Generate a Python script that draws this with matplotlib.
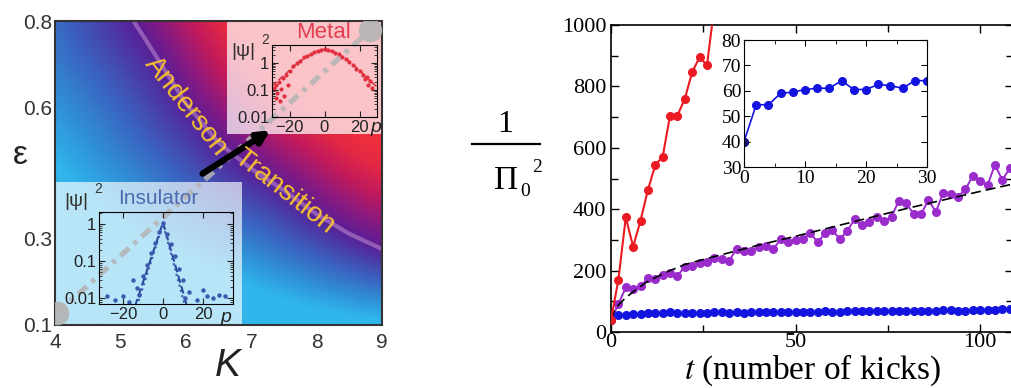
import numpy as np
import matplotlib
matplotlib.use("Agg")
import matplotlib.pyplot as plt
from matplotlib.colors import LinearSegmentedColormap
from matplotlib.patches import Rectangle

plt.rcParams['font.family'] = ['Liberation Sans', 'DejaVu Sans']
plt.rcParams['mathtext.fontset'] = 'stix'

# ---------------- data: left panel (phase diagram) ----------------
K_lim = [4, 9]
eps_lim = [0.1, 0.8]
K_ticks = [4, 5, 6, 7, 8, 9]
eps_ticks = [0.1, 0.3, 0.6, 0.8]

# Anderson transition line
K_crit = [4.9, 5.2, 5.5, 6.0, 6.5, 7.0, 7.5, 8.0, 8.5, 9.0, 9.5]
eps_crit = [0.92, 0.80, 0.73, 0.61, 0.52, 0.46, 0.41, 0.355, 0.31, 0.275, 0.25]

# grey path crossing the transition
K_path = [4.03, 8.82]
eps_path = [0.127, 0.779]

# black arrow
K_arrow = [6.22, 7.33]
eps_arrow = [0.445, 0.552]

# insulator inset |psi|^2 (p)
p_ins_fit = [-14, 0, 12]
psi_ins_fit = [0.006, 1.1, 0.006]
p_ins_fit2 = [-13, 0, 11]
psi_ins_fit2 = [0.006, 1.0, 0.006]
p_ins = [-28, -24, -20, -17, -15, -13, -12, -10, -8, -6, -4, -2, 0, 2, 4, 6, 8, 10, 11, 13, 17, 20, 22, 25, 28, 31]
psi_ins = [0.011, 0.009, 0.011, 0.008, 0.03, 0.019, 0.012, 0.04, 0.08, 0.16, 0.3, 0.6, 1.05, 0.55, 0.28, 0.14, 0.06, 0.03, 0.01, 0.015, 0.009, 0.016, 0.011, 0.01, 0.012, 0.011]

# metal inset |psi|^2 (p)
p_met_fit = [-30, -26, -22, -18, -14, -10, -6, -2, 0, 2, 6, 10, 14, 18, 22, 26, 30]
psi_met_fit = [0.14, 0.24, 0.40, 0.70, 1.15, 1.75, 2.45, 3.05, 3.15, 3.05, 2.45, 1.75, 1.15, 0.70, 0.40, 0.22, 0.13]
p_met = [-29, -28, -27.5, -27, -26, -25.5, -25, -24, -23, -22, -21, -20, -18, -16, -14, -12, -10, -8, -6, -4, -2, 0, 2, 4, 6, 8, 10, 12, 14, 16, 18, 20, 22, 23, 24, 25, 26, 27]
psi_met = [0.12, 0.05, 0.15, 0.08, 0.2, 0.04, 0.11, 0.28, 0.06, 0.35, 0.15, 0.5, 0.75, 1.0, 1.2, 1.6, 1.8, 2.2, 2.6, 2.8, 3.1, 3.2, 3.0, 2.7, 2.4, 2.1, 1.7, 1.4, 1.1, 0.85, 0.62, 0.5, 0.35, 0.25, 0.3, 0.15, 0.22, 0.12]

# ---------------- data: right panel ----------------
t_red = [0, 2, 4, 6, 8, 10, 12, 14, 16, 18, 20, 22, 24, 26, 28]
red_vals = [40, 170, 373, 278, 363, 463, 544, 571, 705, 705, 760, 847, 895, 869, 1060]

t_kicks = np.arange(0, 110, 2)
purple_vals = [40, 91, 145, 141, 150, 175, 172, 185, 193, 183, 213,
               216, 224, 227, 241, 237, 232, 271, 263, 265, 278,
               280, 271, 302, 293, 300, 302, 321, 293, 321, 332,
               302, 330, 367, 347, 358, 376, 360, 376, 428, 419,
               384, 384, 430, 391, 454, 450, 439, 465, 508, 491,
               478, 545, 495, 533]
blue_vals = [40, 54.5, 54.5, 59, 59.5, 60.5, 61, 61, 64, 60.5, 60.5, 62.5, 62, 61, 64, 64,
             63, 64, 63, 64, 64, 65, 64, 65, 65, 66, 66, 65, 66, 67, 66, 66, 68, 69, 68, 69,
             69, 68, 69, 69, 70, 70, 69, 70, 70, 71, 72, 70, 70, 73, 72, 71, 73, 74, 74]

t_fit = [0, 1, 2, 4, 7, 10, 15, 20, 30, 40, 50, 60, 70, 80, 90, 100, 110]
fit_vals = [40, 70, 88, 112, 140, 165, 195, 220, 252, 283, 312, 342, 372, 402, 430, 458, 485]

W, H = 1011, 388
fig = plt.figure(figsize=(W / 100, H / 100), dpi=100)


def box(x0, y0, x1, y1):
    # pixel box (top-left origin) -> figure fraction
    return [x0 / W, 1 - y1 / H, (x1 - x0) / W, (y1 - y0) / H]


# ================= left panel =================
ax = fig.add_axes(box(55, 21, 382, 325))

KK, EE = np.meshgrid(np.linspace(4, 9, 400), np.linspace(0.1, 0.8, 400))
sx, sy = 65.4, 434.0
px, py = KK * sx, EE * sy
cx, cy = np.array(K_crit) * sx, np.array(eps_crit) * sy
dist = np.full(KK.shape, np.inf)
for i in range(len(cx) - 1):
    vx, vy = cx[i + 1] - cx[i], cy[i + 1] - cy[i]
    s = np.clip(((px - cx[i]) * vx + (py - cy[i]) * vy) / (vx * vx + vy * vy), 0, 1)
    dist = np.minimum(dist, np.hypot(px - cx[i] - s * vx, py - cy[i] - s * vy))
above = EE > np.interp(KK, K_crit, eps_crit)
neg_scale = 145 - 15.6 * (KK - 4)
v = np.where(above, np.clip(dist / 95, 0, 1), -np.clip(dist / neg_scale, 0, 1))

cmap = LinearSegmentedColormap.from_list('phase', [
    (0.0, '#30b6ec'), (0.12, '#2f92d8'), (0.27, '#3a64c0'), (0.4, '#4a3ca8'),
    (0.5, '#5a1e96'), (0.62, '#8a1a80'), (0.75, '#c01a5c'), (0.88, '#e42844'),
    (1.0, '#f0303c')])
ax.imshow((v + 1) / 2, extent=[4, 9, 0.1, 0.8], origin='lower', aspect='auto',
          cmap=cmap, vmin=0, vmax=1, zorder=0)

ax.plot(K_crit, eps_crit, color='#e8b8e8', lw=3, alpha=0.4, zorder=1)

ax.add_patch(Rectangle((4, 0.1), 2.86, 0.329, facecolor='white', alpha=0.66,
                       edgecolor='none', zorder=2))
ax.add_patch(Rectangle((6.63, 0.54), 2.37, 0.26, facecolor='white', alpha=0.72,
                       edgecolor='none', zorder=2))

ax.plot(K_path, eps_path, color='#b4b4b4', lw=3.8, alpha=0.85,
        linestyle=(0, (2.2, 1.2, 0.8, 1.2)), zorder=3)
ax.plot(K_path, eps_path, 'o', color='#b4b4b4', ms=17, alpha=0.9, mec='none', zorder=3)

ax.annotate('', xy=(K_arrow[1], eps_arrow[1]), xytext=(K_arrow[0], eps_arrow[0]),
            arrowprops=dict(arrowstyle='-|>', color='black', lw=4.5, mutation_scale=18),
            zorder=4)

ax.text(6.0, 0.604, 'Anderson', rotation=-52, rotation_mode='anchor', ha='center',
        va='center', color='#f5c030', fontsize=20, zorder=5)
ax.text(7.5, 0.406, 'Transition', rotation=-38, rotation_mode='anchor', ha='center',
        va='center', color='#f5c030', fontsize=20, zorder=5)

ax.set_xlim(K_lim)
ax.set_ylim(eps_lim)
ax.set_xticks(K_ticks)
ax.set_yticks(eps_ticks)
ax.set_yticklabels(['0.1', '0.3', '0.6', '0.8'])
ax.tick_params(length=0, labelsize=15, colors='#333333')
ax.tick_params(axis='x', pad=6)
ax.tick_params(axis='y', pad=2)
for sp in ax.spines.values():
    sp.set_color('#333333')
    sp.set_linewidth(1.5)
fig.text(228 / W, 1 - 366 / H, 'K', fontsize=28, style='italic', ha='center', va='center',
         color='#222222')
fig.text(20 / W, 1 - 155 / H, 'ε', fontsize=24, ha='center', va='center', color='#222222')

# Insulator inset
ai = fig.add_axes(box(99, 212, 233, 304))
ai.set_facecolor('none')
ai.plot(p_ins_fit, psi_ins_fit, '--', color='#2c4a9a', lw=1.5)
ai.plot(p_ins_fit2, psi_ins_fit2, ':', color='#3a5ab0', lw=1.5)
ai.plot(p_ins, psi_ins, 'o', color='#3a5ab0', ms=2.2)
ai.set_yscale('log')
ai.set_xlim(-32, 35)
ai.set_ylim(0.0069, 2.1)
ai.set_xticks([-20, 0, 20])
ai.set_yticks([0.01, 0.1, 1])
ai.set_yticklabels(['0.01', '0.1', '1'])
ai.tick_params(which='both', direction='in', top=True, right=True, labelsize=12, pad=2,
               colors='#222222')
ai.tick_params(which='major', length=4)
ai.tick_params(which='minor', length=2)
fig.text(118 / W, 1 - 199 / H, 'Insulator', fontsize=15, color='#4c6cb0', va='center')
fig.text(64 / W, 1 - 201 / H, '|ψ|', fontsize=14, color='#333333', va='center')
fig.text(94 / W, 1 - 189 / H, '2', fontsize=10, color='#333333', va='center')
fig.text(226 / W, 1 - 318 / H, 'p', fontsize=14, style='italic', color='#222222', va='center',
         ha='center')

# Metal inset
am = fig.add_axes(box(272, 45, 377, 117))
am.set_facecolor('none')
am.plot(p_met_fit, psi_met_fit, '--', color='#d83848', lw=1.2)
am.plot(p_met, psi_met, 'o', color='#e03040', ms=2)
am.set_yscale('log')
am.set_xlim(-30, 30)
am.set_ylim(0.01, 4.6)
am.set_xticks([-20, 0, 20])
am.set_yticks([0.01, 0.1, 1])
am.set_yticklabels(['0.01', '0.1', '1'])
am.tick_params(which='both', direction='in', top=True, right=True, labelsize=12, pad=2,
               colors='#222222')
am.tick_params(which='major', length=4)
am.tick_params(which='minor', length=2)
fig.text(296 / W, 1 - 33 / H, 'Metal', fontsize=16, color='#e04050', va='center')
fig.text(231 / W, 1 - 52 / H, '|ψ|', fontsize=14, color='#333333', va='center')
fig.text(261 / W, 1 - 40 / H, '2', fontsize=10, color='#333333', va='center')
fig.text(376 / W, 1 - 128 / H, 'p', fontsize=14, style='italic', color='#222222', va='center',
         ha='center')

# ================= right panel =================
serif = 'Liberation Serif'
ar = fig.add_axes(box(611, 25, 1013, 332))
ar.plot(t_kicks, purple_vals, '-o', color='#9a2ccc', ms=5.5, lw=1.4, zorder=2)
ar.plot(t_fit, fit_vals, '--', color='black', lw=1.2, dashes=(6, 3), zorder=3)
ar.plot(t_kicks, blue_vals, '-o', color='#1414e0', ms=5.5, lw=1.2, zorder=3)
ar.plot(t_red, red_vals, '-o', color='#ec1a22', ms=5.5, lw=1.5, zorder=4)
ar.set_xlim(0, 108.9)
ar.set_ylim(0, 1000)
ar.set_xticks([0, 50, 100])
ar.set_xticks([25, 75], minor=True)
ar.set_yticks([0, 200, 400, 600, 800, 1000])
ar.set_yticks([100, 300, 500, 700, 900], minor=True)
ar.tick_params(which='both', direction='in', top=True, right=True, labelsize=16)
ar.tick_params(axis='x', pad=1)
ar.tick_params(which='major', length=6, width=1)
ar.tick_params(which='minor', length=5, width=1)
for lab in ar.get_xticklabels() + ar.get_yticklabels():
    lab.set_fontfamily(serif)
for sp in ar.spines.values():
    sp.set_linewidth(1.2)
fig.text(813 / W, 1 - 370 / H, r'$t$ (number of kicks)', fontsize=24, family=serif,
         ha='center', va='center')

# fraction y-label
fig.text(505 / W, 1 - 125 / H, '1', fontsize=23, family=serif, ha='center', va='center')
fig.add_artist(plt.Line2D([472 / W, 540 / W], [1 - 144 / H, 1 - 144 / H], color='black', lw=1.6))
fig.text(506 / W, 1 - 181 / H, 'Π', fontsize=24, family=serif, ha='center', va='center')
fig.text(525 / W, 1 - 192 / H, '0', fontsize=14, family=serif, ha='center', va='center')
fig.text(537 / W, 1 - 167 / H, '2', fontsize=14, family=serif, ha='center', va='center')

# inset of the right panel
ain = fig.add_axes(box(744, 40, 927, 167))
ain.plot(t_kicks[:16], blue_vals[:16], '-o', color='#1414e0', ms=5.5, lw=1.2)
ain.plot(t_kicks[:1], blue_vals[:1], 'o', color='#101070', ms=5.5)
ain.set_xlim(0, 30)
ain.set_ylim(30, 80)
ain.set_xticks([0, 10, 20, 30])
ain.set_xticks([5, 15, 25], minor=True)
ain.set_yticks([30, 40, 50, 60, 70, 80])
ain.tick_params(which='both', direction='in', top=True, right=True, labelsize=14, pad=2)
ain.tick_params(which='major', length=4)
ain.tick_params(which='minor', length=3)
for lab in ain.get_xticklabels() + ain.get_yticklabels():
    lab.set_fontfamily(serif)

fig.savefig('out.png', dpi=100)
